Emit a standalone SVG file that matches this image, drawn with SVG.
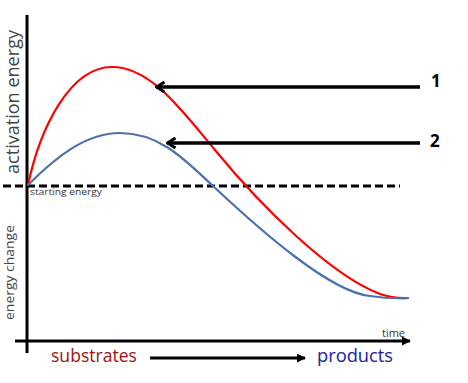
<svg xmlns="http://www.w3.org/2000/svg" width="468" height="383" viewBox="0 0 468 383">
<style>
.axis{stroke:#000;stroke-width:3;fill:none}
.curve{fill:none;stroke-width:2.2;stroke-linecap:round}
.ptr{stroke:#000;stroke-width:3.5;fill:none}
.lbl{font-family:"Open Sans","Liberation Sans",sans-serif}
</style>
<defs>
<marker id="open" viewBox="0 0 12 12" refX="10.5" refY="6" markerWidth="12" markerHeight="12" markerUnits="userSpaceOnUse" orient="auto">
<path d="M2,1 L10,6 L2,11" fill="none" stroke="#000" stroke-width="3"/>
</marker>
<marker id="solid" viewBox="0 0 10 10" refX="9" refY="5" markerWidth="9" markerHeight="9" markerUnits="userSpaceOnUse" orient="auto">
<path d="M0,0 L10,5 L0,10 Z" fill="#000"/>
</marker>
</defs>
<rect width="468" height="383" fill="#fff"/>
<g id="axes">
<line class="axis" x1="27" y1="15" x2="27" y2="353"/>
<line class="axis" x1="15" y1="341" x2="410" y2="341" marker-end="url(#solid)"/>
<line x1="3" y1="186" x2="400" y2="186" stroke="#000" stroke-width="3" stroke-dasharray="8,4"/>
</g>
<g id="curves">
<path id="red-curve" class="curve" stroke="#ff0000" d="M28,185 C40,128 70,67 112,67 C150,67 180,108 215,150 C260,205 330,275 380,294 Q395,299 408,298"/>
<path id="blue-curve" class="curve" stroke="#4a72b0" d="M28,185 C55,158 85,133 120,133 C160,133 185,160 213,186 C260,230 330,292 370,296 Q390,299 408,298"/>
</g>
<g id="connectors">
<line class="ptr" x1="420" y1="87" x2="156" y2="87" marker-end="url(#open)"/>
<line class="ptr" x1="420" y1="143" x2="167" y2="143" marker-end="url(#open)"/>
<line x1="150" y1="358" x2="305" y2="358" stroke="#000" stroke-width="3" marker-end="url(#solid)"/>
</g>
<g id="labels">
<text class="lbl" x="431" y="87" font-size="17" font-weight="bold" fill="#000">1</text>
<text class="lbl" x="430" y="147" font-size="17" font-weight="bold" fill="#000">2</text>
<text class="lbl" transform="translate(19,174) rotate(-90)" font-size="19" fill="#444" textLength="144" lengthAdjust="spacingAndGlyphs">activation energy</text>
<text class="lbl" transform="translate(14,320) rotate(-90)" font-size="12.5" fill="#444" textLength="95" lengthAdjust="spacingAndGlyphs">energy change</text>
<text class="lbl" x="30" y="195" font-size="9.5" fill="#333" textLength="72" lengthAdjust="spacingAndGlyphs">starting energy</text>
<text class="lbl" x="382" y="337" font-size="10.5" fill="#333" textLength="23" lengthAdjust="spacingAndGlyphs">time</text>
<text class="lbl" x="51" y="362" font-size="17.5" fill="#a01010" textLength="86" lengthAdjust="spacingAndGlyphs">substrates</text>
<text class="lbl" x="317" y="362" font-size="17.5" fill="#2020a0" textLength="76" lengthAdjust="spacingAndGlyphs">products</text>
</g>
</svg>
